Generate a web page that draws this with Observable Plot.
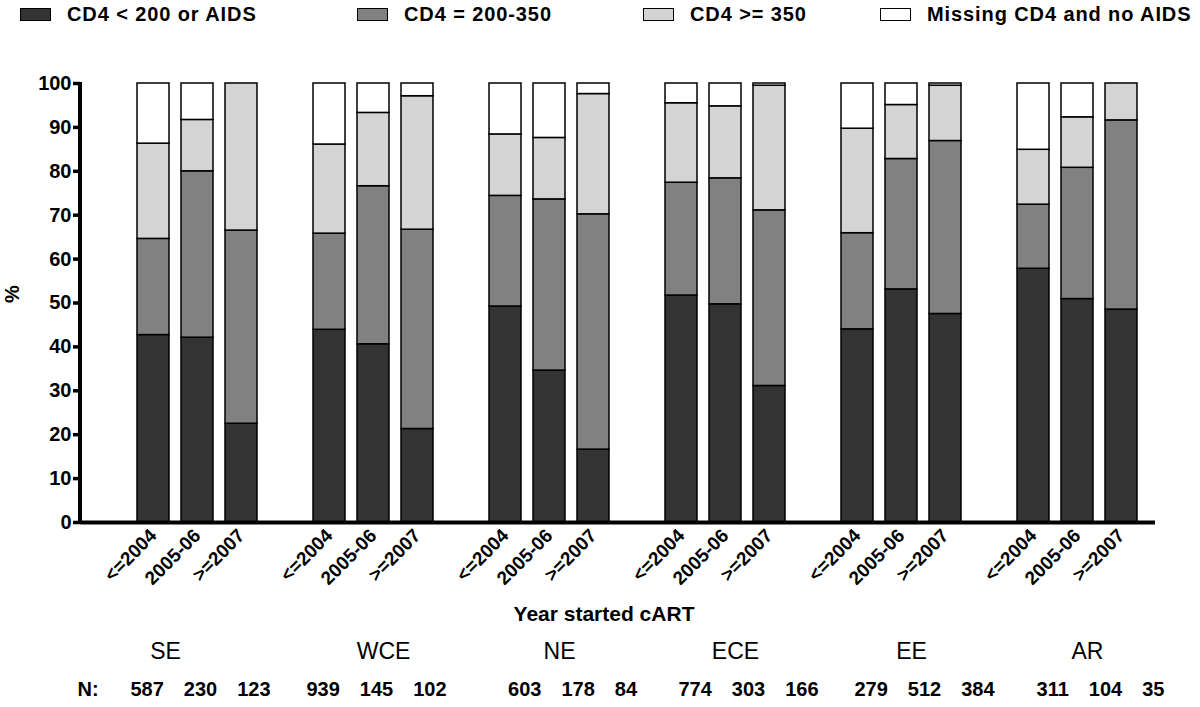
<!DOCTYPE html>
<html><head><meta charset="utf-8">
<script src="https://cdn.jsdelivr.net/npm/d3@7"></script>
<script src="https://cdn.jsdelivr.net/npm/@observablehq/plot@0.6"></script>
<style>
body{margin:0;background:#fff;font-family:"Liberation Sans",Arial,Helvetica,sans-serif;}
#legend{position:relative;height:40px;width:1200px;}
.item{position:absolute;top:3px;display:flex;align-items:center;font-weight:bold;font-size:20px;letter-spacing:0.9px;color:#000;line-height:23px;}
.sw{width:31px;height:13px;border:1.5px solid #000;margin-right:16px;box-sizing:border-box;}
</style></head><body>
<div id="legend"></div>
<div id="chart"></div>
<script>
// ---- data ----
const regions = ["SE", "WCE", "NE", "ECE", "EE", "AR"];
const periods = ["<=2004", "2005-06", ">=2007"];
const categories = ["CD4 < 200 or AIDS", "CD4 = 200-350", "CD4 >= 350", "Missing CD4 and no AIDS"];
const colors = ["#333333", "#818181", "#d4d4d4", "#ffffff"];
// percentages per bar, order: SE(3), WCE(3), NE(3), ECE(3), EE(3), AR(3)
const cd4Below200 = [42.7, 42.1, 22.5, 43.9, 40.6, 21.3, 49.2, 34.6, 16.6, 51.7, 49.7, 31.1, 44.0, 53.1, 47.5, 57.8, 50.9, 48.5];
const cd4From200To350 = [21.9, 37.9, 44.0, 21.9, 36.0, 45.4, 25.2, 39.0, 53.6, 25.7, 28.7, 40.0, 21.9, 29.7, 39.4, 14.6, 29.9, 43.1];
const cd4Above350 = [21.7, 11.7, 33.5, 20.3, 16.7, 30.4, 14.0, 14.0, 27.4, 18.1, 16.4, 28.4, 23.8, 12.3, 12.6, 12.5, 11.5, 8.4];
const missingCd4 = [13.7, 8.3, 0.0, 13.9, 6.7, 2.9, 11.6, 12.4, 2.4, 4.5, 5.2, 0.5, 10.3, 4.9, 0.5, 15.1, 7.7, 0.0];
const nPatients = ["587 230 123", "939 145 102", "603 178 84", "774 303 166", "279 512 384", "311 104 35"];
const yTicks = [0, 10, 20, 30, 40, 50, 60, 70, 80, 90, 100];
const xTitle = "Year started cART";
const yTitle = "%";

// ---- build table ----
const series = [cd4Below200, cd4From200To350, cd4Above350, missingCd4];
const barKeys = [];
const slots = [];
regions.forEach((r, gi) => {
  if (gi > 0) slots.push("gap" + gi);
  periods.forEach(p => { const k = r + "|" + p; barKeys.push(k); slots.push(k); });
});
const rows = [];
barKeys.forEach((k, i) => {
  categories.forEach((c, ci) => rows.push({key: k, category: c, value: series[ci][i]}));
});

// ---- legend ----
const legend = document.getElementById("legend");
const legendLeft = [20, 357, 643, 880];
categories.forEach((c, i) => {
  const it = document.createElement("div");
  it.className = "item";
  it.style.left = legendLeft[i] + "px";
  const sw = document.createElement("span");
  sw.className = "sw";
  sw.style.background = colors[i];
  const tx = document.createElement("span");
  tx.textContent = c;
  it.append(sw, tx);
  legend.append(it);
});

const mid = r => r + "|" + periods[1];
const nText = nPatients.map(s => s.split(" ").join("\u2003"));

const yAxisLine = (index, scales, values, dimensions) => {
  const ns = "http://www.w3.org/2000/svg";
  const l = document.createElementNS(ns, "line");
  l.setAttribute("x1", dimensions.marginLeft);
  l.setAttribute("x2", dimensions.marginLeft);
  l.setAttribute("y1", scales.y(0) + 2);
  l.setAttribute("y2", scales.y(100) - 1);
  l.setAttribute("stroke", "#000");
  l.setAttribute("stroke-width", 4);
  return l;
};

const chart = Plot.plot({
  width: 1200,
  height: 667,
  marginTop: 43,
  marginBottom: 185,
  marginLeft: 80,
  marginRight: 45,
  style: {fontFamily: "'Liberation Sans', Arial, Helvetica, sans-serif", fontWeight: "bold", color: "#000", background: "#fff"},
  x: {type: "band", domain: slots, paddingInner: 0.28, paddingOuter: 0.14, insetLeft: 46, insetRight: 7},
  y: {domain: [0, 100]},
  color: {domain: categories, range: colors},
  marks: [
    Plot.barY(rows, {x: "key", y: "value", fill: "category", stroke: "#000", strokeWidth: 1.5, order: null}),
    Plot.ruleY([0], {stroke: "#000", strokeWidth: 4}),
    yAxisLine,
    Plot.axisY({ticks: yTicks, tickSize: 7, tickPadding: 2, strokeWidth: 3.5, fontSize: 20, fontWeight: "bold", label: null}),
    Plot.axisX({ticks: barKeys, tickFormat: d => d.split("|")[1], tickRotate: -45, tickSize: 0, tickPadding: 10, fontSize: 19, fontWeight: "bold", label: null}),
    Plot.text([yTitle], {frameAnchor: "left", dx: -68, rotate: -90, fontSize: 20, fontWeight: "bold"}),
    Plot.text([xTitle], {frameAnchor: "bottom", dx: -14, dy: 98, fontSize: 21, fontWeight: "bold", letterSpacing: 0.5}),
    Plot.text(regions.slice(0, 1), {x: mid, frameAnchor: "bottom", dx: -32, dy: 136, fontSize: 23, fontWeight: "normal"}),
    Plot.text(regions.slice(1), {x: mid, frameAnchor: "bottom", dx: 10, dy: 136, fontSize: 23, fontWeight: "normal"}),
    Plot.text(["N:"], {frameAnchor: "bottom-left", textAnchor: "start", dx: -3, dy: 173, fontSize: 20, fontWeight: "bold"}),
    Plot.text(nText.slice(0, 2), {x: (d, i) => mid(regions[i]), frameAnchor: "bottom", dx: 3, dy: 173, fontSize: 20, fontWeight: "bold"}),
    Plot.text(nText.slice(2), {x: (d, i) => mid(regions[i + 2]), frameAnchor: "bottom", dx: 23, dy: 173, fontSize: 20, fontWeight: "bold"})
  ]
});
document.getElementById("chart").append(chart);
</script>
</body></html>
